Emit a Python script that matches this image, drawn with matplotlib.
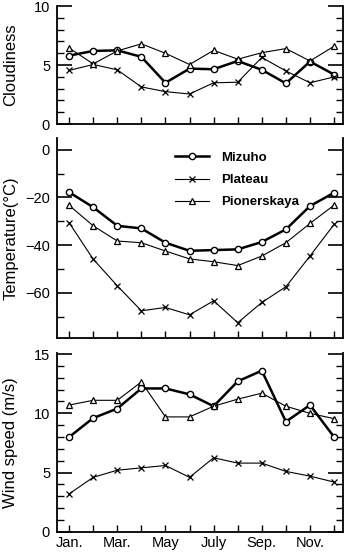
import numpy as np
from matplotlib import pyplot as plt
from matplotlib.ticker import MultipleLocator

plt.rcParams['font.family'] = ['Liberation Sans', 'DejaVu Sans']

months = ['Jan.', 'Feb.', 'Mar.', 'Apr.', 'May', 'June',
          'July', 'Aug.', 'Sep.', 'Oct.', 'Nov.', 'Dec.']
month_labels = ['Jan.', '', 'Mar.', '', 'May', '', 'July', '', 'Sep.', '', 'Nov.', '']
stations = ['Mizuho', 'Plateau', 'Pionerskaya']

cloud_mizuho = [5.8, 6.2, 6.25, 5.7, 3.5, 4.7, 4.65, 5.35, 4.6, 3.45, 5.3, 4.2]
cloud_plateau = [4.55, 5.05, 4.6, 3.15, 2.75, 2.55, 3.5, 3.55, 5.65, 4.5, 3.5, 4.0]
cloud_pioner = [6.45, 5.1, 6.2, 6.8, 6.0, 5.05, 6.25, 5.5, 6.05, 6.4, 5.35, 6.6]

temp_mizuho = [-17.8, -24.1, -31.9, -33.0, -39.0, -42.4, -42.1, -41.8, -38.7, -33.4, -23.6, -18.0]
temp_plateau = [-30.6, -45.9, -57.1, -67.6, -66.2, -69.3, -63.4, -72.6, -64.1, -57.5, -44.6, -31.3]
temp_pioner = [-23.3, -31.9, -38.3, -39.0, -42.5, -45.8, -47.0, -48.6, -44.6, -39.0, -30.9, -23.2]

wind_mizuho = [8.0, 9.6, 10.4, 12.1, 12.1, 11.6, 10.6, 12.7, 13.6, 9.3, 10.7, 8.0]
wind_plateau = [3.2, 4.6, 5.2, 5.4, 5.6, 4.6, 6.25, 5.8, 5.8, 5.1, 4.7, 4.2]
wind_pioner = [10.7, 11.1, 11.1, 12.65, 9.7, 9.7, 10.6, 11.2, 11.7, 10.6, 10.0, 9.55]

styles = [dict(marker='o', lw=1.8, ms=4.5, mfc='white', mew=1.0),
          dict(marker='x', lw=0.8, ms=4, mew=0.9),
          dict(marker='^', lw=0.8, ms=4.5, mfc='white', mew=0.9)]

fig = plt.figure(figsize=(3.5, 5.54), dpi=100)
ax1 = fig.add_axes([0.163, 0.776, 0.817, 0.213])
ax2 = fig.add_axes([0.163, 0.390, 0.817, 0.361])
ax3 = fig.add_axes([0.163, 0.040, 0.817, 0.323])

x = np.arange(len(months))
panels = [
    (ax1, [cloud_mizuho, cloud_plateau, cloud_pioner], 'Cloudiness', (0, 10), 5, 1),
    (ax2, [temp_mizuho, temp_plateau, temp_pioner], 'Temperature(\u00b0C)', (-79, 5), 20, 10),
    (ax3, [wind_mizuho, wind_plateau, wind_pioner], 'Wind speed (m/s)', (0, 15.1), 5, 1),
]

for ax, series, label, ylim, major, minor in panels:
    for vals, name, st in zip(series, stations, styles):
        ax.plot(x, vals, color='black', label=name, **st)
    ax.set_xlim(-0.5, 11.37)
    ax.set_ylim(*ylim)
    ax.yaxis.set_major_locator(MultipleLocator(major))
    ax.yaxis.set_minor_locator(MultipleLocator(minor))
    ax.set_xticks(x)
    ax.spines['top'].set_visible(False)
    for s in ['left', 'right', 'bottom']:
        ax.spines[s].set_linewidth(1.3)
    ax.tick_params(axis='y', which='major', direction='in', length=11, width=1.2,
                   left=True, right=True, labelsize=10.5, pad=5)
    ax.tick_params(axis='y', which='minor', direction='in', length=5, width=1.0,
                   left=True, right=True)
    ax.tick_params(axis='x', direction='in', length=5, width=1.0, labelsize=10.5, pad=3)
    ax.set_ylabel(label, fontsize=12)
    ax.yaxis.set_label_coords(-0.135, 0.5)
    if ax is ax3:
        ax.set_xticklabels(month_labels)
    else:
        ax.set_xticklabels([])

ax2.legend(loc='upper left', bbox_to_anchor=(0.37, 0.99), frameon=False,
           prop={'weight': 'bold', 'size': 9.5}, handlelength=2.6,
           labelspacing=0.75, handletextpad=0.9)

plt.savefig('out.png', dpi=100)
